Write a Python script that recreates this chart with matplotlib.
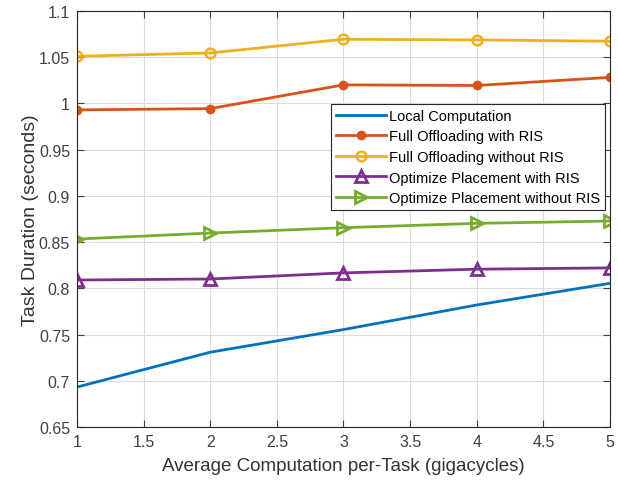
import numpy as np
import matplotlib.pyplot as plt

plt.rcParams['font.family'] = ['Liberation Sans', 'DejaVu Sans']

# data
x = [1, 2, 3, 4, 5]
local = [0.6932, 0.7309, 0.7554, 0.7820, 0.8054]
full_ris = [0.9930, 0.9944, 1.0201, 1.0194, 1.0282]
full_noris = [1.0510, 1.0546, 1.0694, 1.0687, 1.0673]
opt_ris = [0.8090, 0.8101, 0.8167, 0.8207, 0.8221]
opt_noris = [0.8533, 0.8598, 0.8656, 0.8703, 0.8728]

labels = ["Local Computation", "Full Offloading with RIS", "Full Offloading without RIS",
          "Optimize Placement with RIS", "Optimize Placement without RIS"]
xticks = [1, 1.5, 2, 2.5, 3, 3.5, 4, 4.5, 5]
yticks = [0.65, 0.7, 0.75, 0.8, 0.85, 0.9, 0.95, 1, 1.05, 1.1]

fig = plt.figure(figsize=(6.18, 4.85), dpi=100)
ax = fig.add_axes([0.1246, 0.1175, 0.8624, 0.8578])

ax.plot(x, local, color='#0072BD', lw=2, label=labels[0])
ax.plot(x, full_ris, color='#D95319', lw=2, marker='o', ms=6, label=labels[1])
ax.plot(x, full_noris, color='#EDB120', lw=2, marker='o', ms=7, mfc='none', mew=1.8, label=labels[2])
ax.plot(x, opt_ris, color='#7E2F8E', lw=2, marker='^', ms=9, mfc='none', mew=2, label=labels[3])
ax.plot(x, opt_noris, color='#77AC30', lw=2, marker='>', ms=9, mfc='none', mew=2, label=labels[4])

ax.set_xlim(1, 5)
ax.set_ylim(0.65, 1.1)
ax.set_xticks(xticks)
ax.set_xticklabels(['1', '1.5', '2', '2.5', '3', '3.5', '4', '4.5', '5'])
ax.set_yticks(yticks)
ax.set_yticklabels(['0.65', '0.7', '0.75', '0.8', '0.85', '0.9', '0.95', '1', '1.05', '1.1'])
ax.grid(True, color='#dcdcdc', lw=0.8)
ax.set_axisbelow(True)
ax.tick_params(direction='in', top=True, right=True, labelsize=11.5, colors='#404040', length=5, pad=5)
for s in ax.spines.values():
    s.set_color('#262626')
    s.set_linewidth(0.8)

ax.set_xlabel("Average Computation per-Task (gigacycles)", fontsize=13.5, color='#333333', labelpad=6)
ax.set_ylabel("Task Duration (seconds)", fontsize=14, color='#333333', labelpad=0)

leg = ax.legend(loc='upper right', bbox_to_anchor=(0.991, 0.777), fontsize=10.5,
                fancybox=False, framealpha=1, edgecolor='#262626',
                borderpad=0.35, labelspacing=0.45, handlelength=3.4, handletextpad=0.2,
                borderaxespad=0)
leg.get_frame().set_linewidth(0.8)

fig.savefig("out.png", dpi=100)
